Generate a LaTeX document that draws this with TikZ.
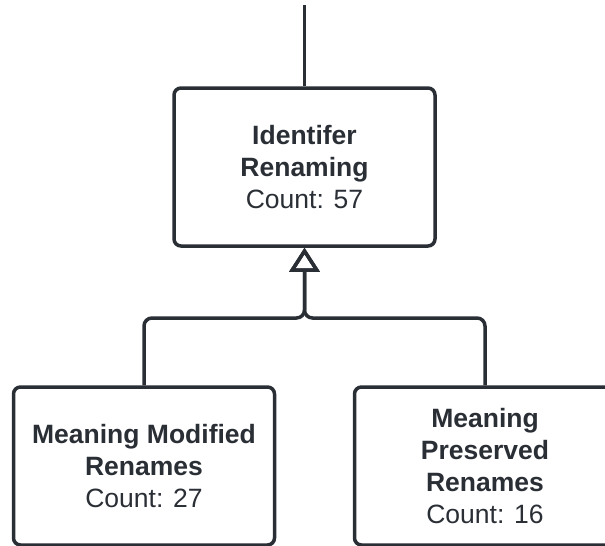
\documentclass[tikz,border=0pt]{standalone}
\usepackage{fontspec}
\setmainfont{Liberation Sans}
\usetikzlibrary{arrows.meta,calc}
\definecolor{inkdark}{HTML}{2A2E35}

\begin{document}
\begin{tikzpicture}[x=1pt,y=-1pt,
    classbox/.style={draw=inkdark, line width=3.5pt, rounded corners=7pt, fill=white,
        minimum width=261pt, minimum height=158pt, align=center, text=inkdark,
        font=\fontsize{26.5}{32}\selectfont},
    inherit/.style={draw=inkdark, line width=3.5pt, rounded corners=8pt,
        -{Triangle[open, length=24pt, width=30pt, line width=3.5pt]}}]
    \useasboundingbox (0,0) rectangle (605,546); % same frame as the screenshot

    % the three classes
    \node[classbox] (idren) at (304.5,167) {\textbf{Identifer}\\\textbf{Renaming}\\Count: 57};
    \node[classbox] (modif) at (144,466) {\textbf{Meaning Modified}\\\textbf{Renames}\\Count: 27};
    \node[classbox] (presv) at (485,466) {\textbf{Meaning}\\\textbf{Preserved}\\\textbf{Renames}\\Count: 16};

    \coordinate (upper) at (304.5,5); % line leaving the picture at the top
    \coordinate (joint) at (304.5,318); % where both branches meet

    % connectors
    \draw[draw=inkdark, line width=3.5pt] (upper) -- (idren.north);
    \draw[inherit] (modif.north) |- (joint) -- (idren.south);
    \draw[inherit] (presv.north) |- (joint) -- (idren.south);
\end{tikzpicture}
\end{document}
